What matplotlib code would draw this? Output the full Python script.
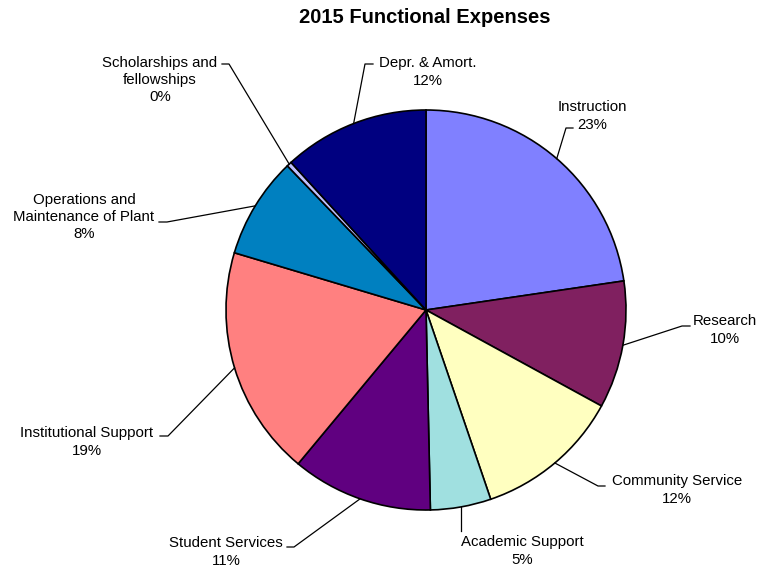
import numpy as np
import matplotlib
matplotlib.use('Agg')
import matplotlib.pyplot as plt

plt.rcParams['font.family'] = ['Liberation Sans', 'DejaVu Sans']

categories = ['Instruction', 'Research', 'Community Service', 'Academic Support',
              'Student Services', 'Institutional Support',
              'Operations and\nMaintenance of Plant', 'Scholarships and\nfellowships',
              'Depr. & Amort.']
shares = [22.7, 10.3, 11.8, 4.9, 11.4, 18.6, 8.2, 0.4, 11.8]
colors = ['#8080FF', '#802060', '#FFFFC0', '#A0E0E0', '#600080',
          '#FF8080', '#0080C0', '#C0C0FF', '#000080']

H = 571
cx, cy, r = 426, H - 310, 200

# label layout (pixel coords from top): text centre, knee, end of short tick
layout = [
    ((592, 116), (566, 128), (573, 128)),
    ((725, 330), (682, 326), (690, 326)),
    ((677, 490), (598, 486), (605, 486)),
    ((522, 551), None, (459, 531)),
    ((226, 552), (294, 547), (287, 547)),
    ((87, 442), (168, 436), (160, 436)),
    ((84, 217), (167, 222), (159, 222)),
    ((160, 80), (229, 64), (222, 64)),
    ((428, 72), (365, 64), (373, 64)),
]

fig = plt.figure(figsize=(7.61, 5.71), dpi=100)
ax = fig.add_axes([0, 0, 1, 1])
wedges, _ = ax.pie(shares, colors=colors, startangle=90, counterclock=False,
                   center=(cx, cy), radius=r,
                   wedgeprops=dict(edgecolor='black', linewidth=1.2))
ax.set_xlim(0, 761)
ax.set_ylim(0, H)
ax.set_aspect('equal')
ax.axis('off')

total = sum(shares)
for w, name, v, (tc, knee, end) in zip(wedges, categories, shares, layout):
    mid = np.deg2rad((w.theta1 + w.theta2) / 2)
    ex, ey = cx + r * np.cos(mid), cy + r * np.sin(mid)
    if knee is None:
        # straight drop
        ax.plot([ex, ex], [ey, H - end[1]], color='black', linewidth=0.9, zorder=3)
    else:
        ax.plot([ex, knee[0], end[0]], [ey, H - knee[1], H - end[1]],
                color='black', linewidth=0.9, zorder=3)
    pct = int(v / total * 100 + 0.5)
    ax.text(tc[0], H - tc[1], f'{name}\n{pct}%', ha='center', va='center',
            fontsize=10.8, linespacing=1.3)

fig.suptitle('2015 Functional Expenses', y=1 - 8 / H, va='top',
             fontsize=14.5, fontweight='bold', x=425 / 761)
fig.savefig('out.png', dpi=100)
